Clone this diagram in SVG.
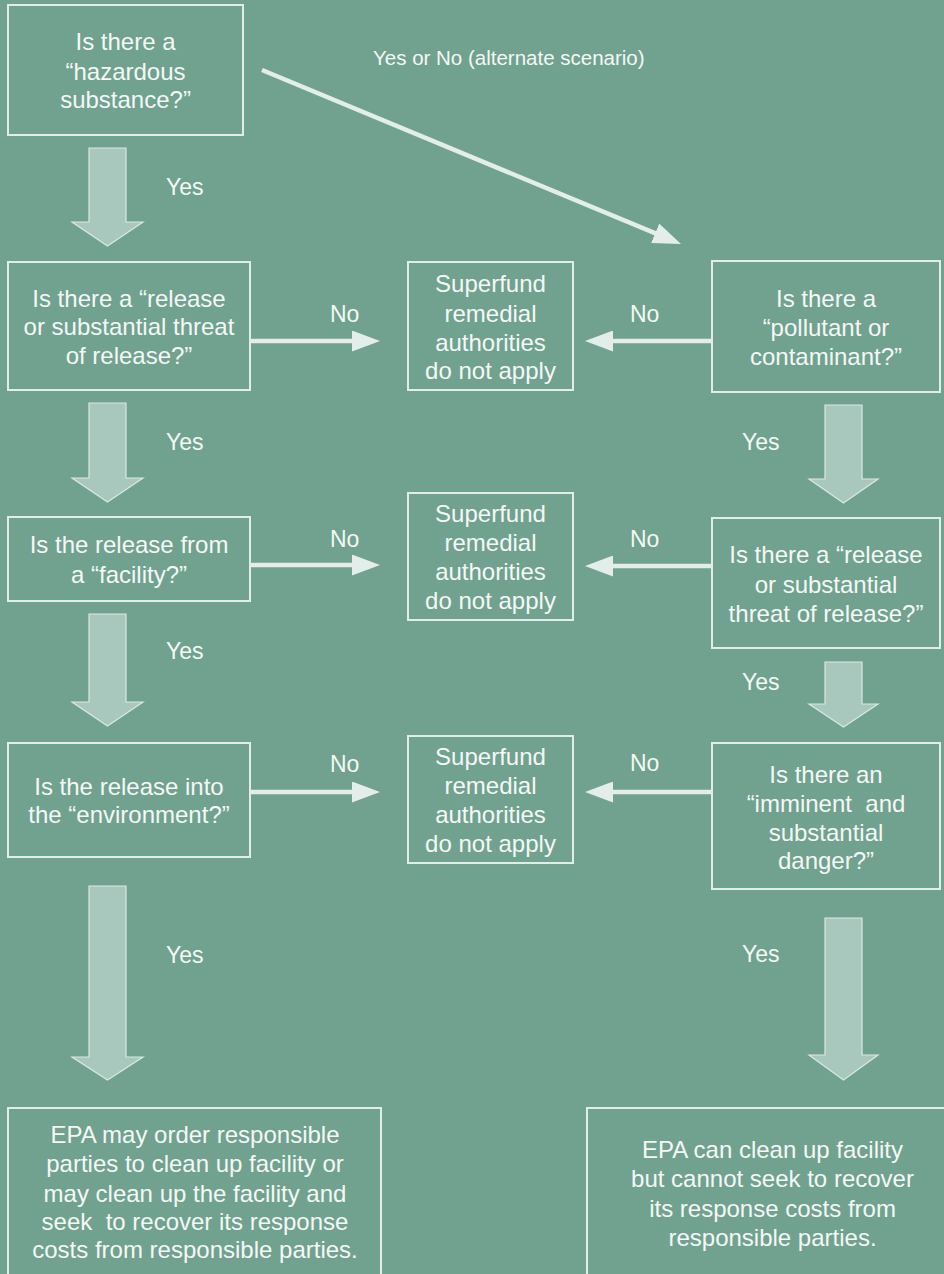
<svg xmlns="http://www.w3.org/2000/svg" width="944" height="1274" viewBox="0 0 944 1274">
<defs>
<style>
.bg{fill:#70a28f}
.box{fill:none;stroke:#e1ede8;stroke-width:2}
.t{font-family:"Liberation Sans",Arial,sans-serif;font-size:24px;fill:#f4f8f6;text-anchor:middle}
.lbl{font-family:"Liberation Sans",Arial,sans-serif;font-size:23px;fill:#f4f8f6}
.fat{fill:#a9c8bd;stroke:#d9e8e2;stroke-width:1.2}
.thin{stroke:#e3eeea;stroke-width:4.5;fill:none;marker-end:url(#ah)}
</style>
<marker id="ah" viewBox="0 0 28 21" refX="18" refY="10.5" markerWidth="28" markerHeight="21" markerUnits="userSpaceOnUse" orient="auto">
<path d="M0,0 L28,10.5 L0,21 Z" fill="#e3eeea"/>
</marker>
</defs>
<rect class="bg" x="0" y="0" width="944" height="1274"/>

<g id="connectors">
<line class="thin" x1="262" y1="70" x2="671.8" y2="240.2"/>
<line class="thin" x1="250" y1="341" x2="370" y2="341"/>
<line class="thin" x1="250" y1="565" x2="370" y2="565"/>
<line class="thin" x1="250" y1="792" x2="370" y2="792"/>
<line class="thin" x1="713" y1="341" x2="595" y2="341"/>
<line class="thin" x1="713" y1="566" x2="595" y2="566"/>
<line class="thin" x1="713" y1="792" x2="595" y2="792"/>
<path class="fat" d="M89,148 H126 V222 H143 L107.5,246 L72,222 H89 Z"/>
<path class="fat" d="M89,403 H126 V478 H143 L107.5,502 L72,478 H89 Z"/>
<path class="fat" d="M89,614 H126 V702 H143 L107.5,726 L72,702 H89 Z"/>
<path class="fat" d="M89,886 H126 V1057 H143 L107.5,1080 L72,1057 H89 Z"/>
<path class="fat" d="M825,405 H862 V479 H878 L843.5,503 L809,479 H825 Z"/>
<path class="fat" d="M825,662 H862 V704 H878 L843.5,727 L809,704 H825 Z"/>
<path class="fat" d="M825,918 H862 V1055 H878 L843.5,1080 L809,1055 H825 Z"/>
<text class="lbl" x="373" y="65" style="font-size:20.5px">Yes or No (alternate scenario)</text>
<text class="lbl" x="166" y="195">Yes</text>
<text class="lbl" x="166" y="450">Yes</text>
<text class="lbl" x="166" y="659">Yes</text>
<text class="lbl" x="166" y="963">Yes</text>
<text class="lbl" x="742" y="450">Yes</text>
<text class="lbl" x="742" y="690">Yes</text>
<text class="lbl" x="742" y="962">Yes</text>
<text class="lbl" x="330" y="322">No</text>
<text class="lbl" x="330" y="547">No</text>
<text class="lbl" x="330" y="772">No</text>
<text class="lbl" x="630" y="322">No</text>
<text class="lbl" x="630" y="547">No</text>
<text class="lbl" x="630" y="771">No</text>
</g>

<g id="hazardous">
<rect class="box" x="8" y="5" width="235" height="130"/>
<text class="t" x="125.5" y="50">Is there a</text>
<text class="t" x="125.5" y="80">“hazardous</text>
<text class="t" x="125.5" y="108">substance?”</text>
</g>
<g id="release-left">
<rect class="box" x="8" y="262" width="242" height="128"/>
<text class="t" x="129" y="307">Is there a “release</text>
<text class="t" x="129" y="335">or substantial threat</text>
<text class="t" x="129" y="364">of release?”</text>
</g>
<g id="facility">
<rect class="box" x="8" y="517" width="242" height="84"/>
<text class="t" x="129" y="553">Is the release from</text>
<text class="t" x="129" y="583">a “facility?”</text>
</g>
<g id="environment">
<rect class="box" x="8" y="743" width="242" height="114"/>
<text class="t" x="129" y="795">Is the release into</text>
<text class="t" x="129" y="823">the “environment?”</text>
</g>
<g id="superfund-1">
<rect class="box" x="408" y="262" width="165" height="128"/>
<text class="t" x="490.5" y="292">Superfund</text>
<text class="t" x="490.5" y="322">remedial</text>
<text class="t" x="490.5" y="351">authorities</text>
<text class="t" x="490.5" y="379">do not apply</text>
</g>
<g id="superfund-2">
<rect class="box" x="408" y="493" width="165" height="127"/>
<text class="t" x="490.5" y="522">Superfund</text>
<text class="t" x="490.5" y="551">remedial</text>
<text class="t" x="490.5" y="580">authorities</text>
<text class="t" x="490.5" y="609">do not apply</text>
</g>
<g id="superfund-3">
<rect class="box" x="408" y="736" width="165" height="127"/>
<text class="t" x="490.5" y="765">Superfund</text>
<text class="t" x="490.5" y="794">remedial</text>
<text class="t" x="490.5" y="823">authorities</text>
<text class="t" x="490.5" y="852">do not apply</text>
</g>
<g id="pollutant">
<rect class="box" x="712" y="261" width="228" height="131"/>
<text class="t" x="826" y="307">Is there a</text>
<text class="t" x="826" y="336">“pollutant or</text>
<text class="t" x="826" y="365">contaminant?”</text>
</g>
<g id="release-right">
<rect class="box" x="712" y="518" width="228" height="130"/>
<text class="t" x="826" y="563">Is there a “release</text>
<text class="t" x="826" y="593">or substantial</text>
<text class="t" x="826" y="622">threat of release?”</text>
</g>
<g id="danger">
<rect class="box" x="712" y="743" width="228" height="146"/>
<text class="t" x="826" y="783">Is there an</text>
<text class="t" x="826" y="812" xml:space="preserve">“imminent  and</text>
<text class="t" x="826" y="841">substantial</text>
<text class="t" x="826" y="869">danger?”</text>
</g>
<g id="epa-order">
<rect class="box" x="8" y="1108" width="373" height="180"/>
<text class="t" x="195" y="1143">EPA may order responsible</text>
<text class="t" x="195" y="1172">parties to clean up facility or</text>
<text class="t" x="195" y="1202">may clean up the facility and</text>
<text class="t" x="195" y="1230" xml:space="preserve">seek  to recover its response</text>
<text class="t" x="195" y="1258">costs from responsible parties.</text>
</g>
<g id="epa-cleanup">
<rect class="box" x="587" y="1108" width="372" height="180"/>
<text class="t" x="772.5" y="1158">EPA can clean up facility</text>
<text class="t" x="772.5" y="1187">but cannot seek to recover</text>
<text class="t" x="772.5" y="1217">its response costs from</text>
<text class="t" x="772.5" y="1246">responsible parties.</text>
</g>
</svg>
